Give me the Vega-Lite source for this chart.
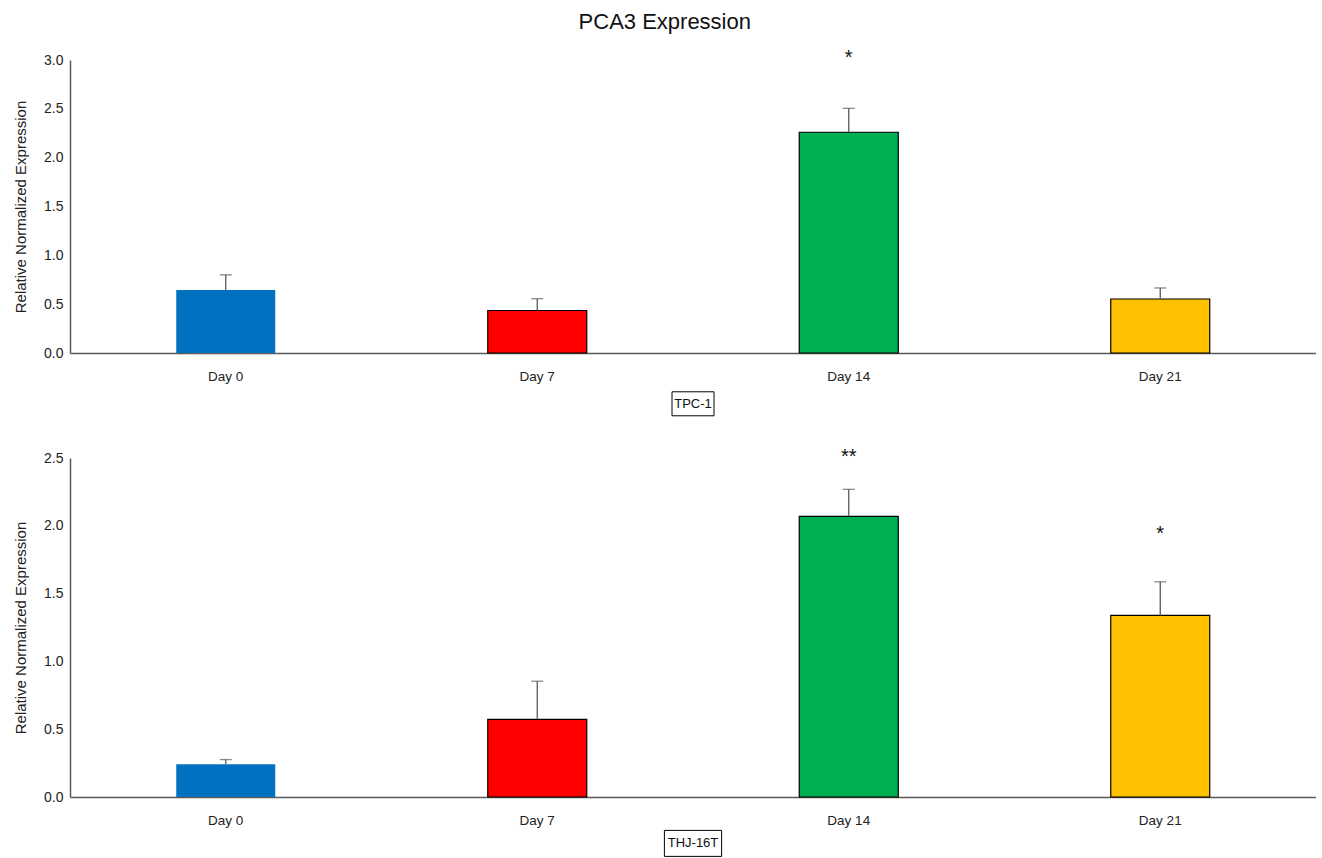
{
  "$schema": "https://vega.github.io/schema/vega-lite/v6.json",
  "padding": {"top": 11, "left": 13, "right": 0, "bottom": 0},
  "background": "white",
  "title": {"text": "PCA3 Expression", "fontSize": 22, "font": "Liberation Sans", "fontWeight": "normal", "color": "#111", "anchor": "middle", "offset": 14},
  "config": {
    "font": "Liberation Sans",
    "view": {"stroke": null},
    "axis": {"grid": false, "ticks": false, "domainColor": "#595959", "domainWidth": 1.5, "labelColor": "#222", "labelFontSize": 13.5, "titleFontSize": 15, "titleFontWeight": "normal", "titleColor": "#222"}
  },
  "spacing": 28,
  "vconcat": [
    {
      "width": 1246,
      "height": 293,
      "data": {"values": [
        {"day": "Day 0", "value": 0.645, "upper": 0.80, "sig": ""},
        {"day": "Day 7", "value": 0.435, "upper": 0.556, "sig": ""},
        {"day": "Day 14", "value": 2.26, "upper": 2.505, "sig": "*"},
        {"day": "Day 21", "value": 0.553, "upper": 0.666, "sig": ""}
      ]},
      "encoding": {
        "x": {"field": "day", "type": "nominal", "sort": ["Day 0", "Day 7", "Day 14", "Day 21"], "scale": {"paddingInner": 0, "paddingOuter": 0}, "axis": {"title": null, "labelAngle": 0, "labelPadding": 16}}
      },
      "layer": [
        {
          "mark": {"type": "bar", "width": 99, "stroke": "black"},
          "encoding": {
            "y": {"field": "value", "type": "quantitative", "scale": {"domain": [0, 3], "nice": false}, "axis": {"title": "Relative Normalized Expression", "values": [0, 0.5, 1, 1.5, 2, 2.5, 3], "format": ".1f", "labelPadding": 7, "labelFontSize": 14, "titlePadding": 15}},
            "color": {"field": "day", "type": "nominal", "scale": {"domain": ["Day 0", "Day 7", "Day 14", "Day 21"], "range": ["#0070C0", "#FF0000", "#00B050", "#FFC000"]}, "legend": null},
            "strokeWidth": {"condition": {"test": "datum.day === 'Day 0'", "value": 0}, "value": 1.2}
          }
        },
        {
          "mark": {"type": "rule", "color": "#595959", "strokeWidth": 1.3},
          "encoding": {"y": {"field": "value", "type": "quantitative"}, "y2": {"field": "upper"}}
        },
        {
          "mark": {"type": "tick", "color": "#595959", "thickness": 1.3, "size": 12, "orient": "horizontal"},
          "encoding": {"y": {"field": "upper", "type": "quantitative"}}
        },
        {
          "mark": {"type": "text", "fontSize": 20, "color": "#111", "baseline": "middle", "dy": 4},
          "encoding": {"y": {"datum": 3.06, "type": "quantitative"}, "text": {"field": "sig"}}
        },
        {
          "data": {"values": [{"label": "TPC-1"}]},
          "layer": [
            {
              "mark": {"type": "point", "shape": "M-1.75,-1L1.75,-1L1.75,1L-1.75,1Z", "size": 576, "filled": false, "stroke": "black", "strokeWidth": 1, "opacity": 1},
              "encoding": {"x": {"datum": "Day 7", "bandPosition": 1}, "y": {"datum": -0.52, "type": "quantitative"}}
            },
            {
              "mark": {"type": "text", "fontSize": 13, "color": "#111", "baseline": "middle"},
              "encoding": {"x": {"datum": "Day 7", "bandPosition": 1}, "y": {"datum": -0.52, "type": "quantitative"}, "text": {"field": "label"}}
            }
          ]
        }
      ]
    },
    {
      "width": 1246,
      "height": 339,
      "data": {"values": [
        {"day": "Day 0", "value": 0.241, "upper": 0.276, "sig": ""},
        {"day": "Day 7", "value": 0.573, "upper": 0.854, "sig": ""},
        {"day": "Day 14", "value": 2.07, "upper": 2.269, "sig": "**"},
        {"day": "Day 21", "value": 1.339, "upper": 1.587, "sig": "*"}
      ]},
      "transform": [{"calculate": "datum.day === 'Day 14' ? 2.54 : 1.968", "as": "sigpos"}],
      "encoding": {
        "x": {"field": "day", "type": "nominal", "sort": ["Day 0", "Day 7", "Day 14", "Day 21"], "scale": {"paddingInner": 0, "paddingOuter": 0}, "axis": {"title": null, "labelAngle": 0, "labelPadding": 16}}
      },
      "layer": [
        {
          "mark": {"type": "bar", "width": 99, "stroke": "black"},
          "encoding": {
            "y": {"field": "value", "type": "quantitative", "scale": {"domain": [0, 2.5], "nice": false}, "axis": {"title": "Relative Normalized Expression", "values": [0, 0.5, 1, 1.5, 2, 2.5], "format": ".1f", "labelPadding": 7, "labelFontSize": 14, "titlePadding": 15}},
            "color": {"field": "day", "type": "nominal", "scale": {"domain": ["Day 0", "Day 7", "Day 14", "Day 21"], "range": ["#0070C0", "#FF0000", "#00B050", "#FFC000"]}, "legend": null},
            "strokeWidth": {"condition": {"test": "datum.day === 'Day 0'", "value": 0}, "value": 1.2}
          }
        },
        {
          "mark": {"type": "rule", "color": "#595959", "strokeWidth": 1.3},
          "encoding": {"y": {"field": "value", "type": "quantitative"}, "y2": {"field": "upper"}}
        },
        {
          "mark": {"type": "tick", "color": "#595959", "thickness": 1.3, "size": 12, "orient": "horizontal"},
          "encoding": {"y": {"field": "upper", "type": "quantitative"}}
        },
        {
          "transform": [{"filter": "datum.sig !== ''"}],
          "mark": {"type": "text", "fontSize": 20, "color": "#111", "baseline": "middle", "dy": 4},
          "encoding": {"y": {"field": "sigpos", "type": "quantitative"}, "text": {"field": "sig"}}
        },
        {
          "data": {"values": [{"label": "THJ-16T"}]},
          "layer": [
            {
              "mark": {"type": "point", "shape": "M-2.2,-1L2.2,-1L2.2,1L-2.2,1Z", "size": 676, "filled": false, "stroke": "black", "strokeWidth": 1, "opacity": 1},
              "encoding": {"x": {"datum": "Day 7", "bandPosition": 1}, "y": {"datum": -0.342, "type": "quantitative"}}
            },
            {
              "mark": {"type": "text", "fontSize": 13, "color": "#111", "baseline": "middle"},
              "encoding": {"x": {"datum": "Day 7", "bandPosition": 1}, "y": {"datum": -0.342, "type": "quantitative"}, "text": {"field": "label"}}
            }
          ]
        }
      ]
    }
  ]
}
